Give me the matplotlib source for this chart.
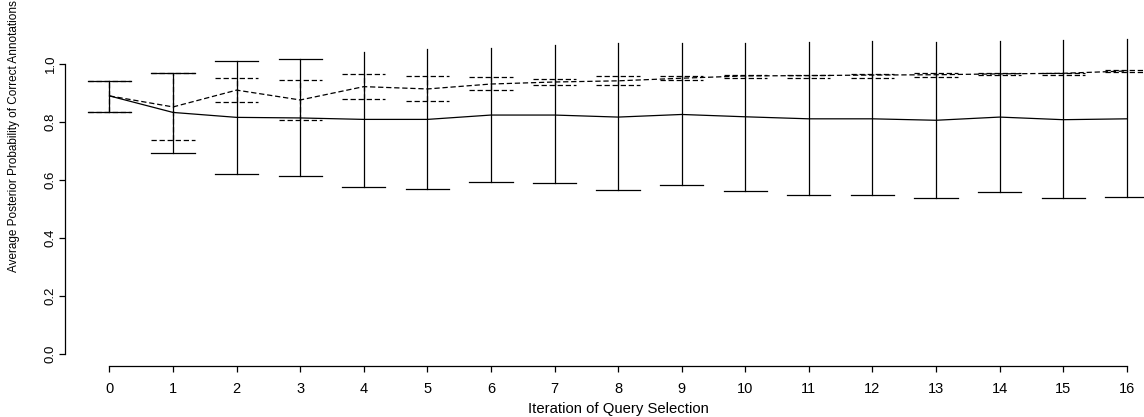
import matplotlib.pyplot as plt
import numpy as np

plt.rcParams['font.family'] = ['Liberation Sans', 'DejaVu Sans']
plt.rcParams['lines.scale_dashes'] = False

iterations = list(range(17))

# solid series: mean with lower/upper error bar ends
solid_mean = [0.890, 0.833, 0.816, 0.814, 0.809, 0.809, 0.824, 0.824, 0.817,
              0.826, 0.818, 0.811, 0.811, 0.806, 0.817, 0.808, 0.811]
solid_lower = [0.836, 0.692, 0.621, 0.613, 0.576, 0.569, 0.594, 0.588, 0.566,
               0.583, 0.562, 0.547, 0.547, 0.537, 0.557, 0.537, 0.541]
solid_upper = [0.943, 0.970, 1.011, 1.019, 1.042, 1.052, 1.054, 1.067, 1.071,
               1.072, 1.073, 1.077, 1.078, 1.077, 1.079, 1.082, 1.086]

# dashed series
dashed_mean = [0.890, 0.852, 0.910, 0.876, 0.922, 0.914, 0.931, 0.938, 0.942,
               0.951, 0.959, 0.960, 0.962, 0.963, 0.966, 0.968, 0.976]
dashed_lower = [0.836, 0.737, 0.869, 0.808, 0.878, 0.871, 0.910, 0.929, 0.927,
                0.946, 0.952, 0.952, 0.953, 0.955, 0.961, 0.963, 0.973]
dashed_upper = [0.943, 0.970, 0.952, 0.944, 0.967, 0.960, 0.954, 0.948, 0.957,
                0.959, 0.963, 0.963, 0.967, 0.968, 0.970, 0.970, 0.978]

ytick_vals = [0.0, 0.2, 0.4, 0.6, 0.8, 1.0]

fig = plt.figure(figsize=(11.44, 4.17), dpi=100)
ax = fig.add_axes([0.0568, 0.1233, 0.967, 0.751])
ymin, ymax = -0.04, 1.04
ax.set_xlim(-0.70, 16.70)
ax.set_ylim(ymin, ymax)

lw = 0.9
dash = (3.8, 2.0)
cap = 0.34


def errbars(x, lo, hi, style):
    extra = {'dashes': dash} if style == '--' else {}
    for xi, l, h in zip(x, lo, hi):
        ax.plot([xi, xi], [l, h], color='black', lw=lw, linestyle=style,
                clip_on=False, **extra)
        for y in (l, h):
            # caps beyond the plot region are not drawn
            if ymin <= y <= ymax:
                ax.plot([xi - cap, xi + cap], [y, y], color='black', lw=lw,
                        linestyle=style, **extra)


errbars(iterations, dashed_lower, dashed_upper, '--')
errbars(iterations, solid_lower, solid_upper, '-')

ax.plot(iterations, solid_mean, color='black', lw=lw)
ax.plot(iterations, dashed_mean, color='black', lw=lw, linestyle='--', dashes=dash)

# R-style axes
for s in ('top', 'right'):
    ax.spines[s].set_visible(False)
ax.spines['left'].set_bounds(0, 1)
ax.spines['bottom'].set_bounds(0, 16)
for s in ('left', 'bottom'):
    ax.spines[s].set_linewidth(0.9)

ax.set_xticks(iterations)
ax.set_xticklabels([str(i) for i in iterations], fontsize=10.5)
ax.set_yticks(ytick_vals)
ax.set_yticklabels(['%.1f' % v for v in ytick_vals], fontsize=9.5,
                   rotation=90, va='center')
ax.tick_params(direction='out', length=4.3, width=0.9)
ax.tick_params(axis='x', pad=7.5)
ax.tick_params(axis='y', pad=1.5)

fig.text(0.541, 0.019, 'Iteration of Query Selection', ha='center', va='center',
         fontsize=10.7)
fig.text(0.0125, 0.674, 'Average Posterior Probability of Correct Annotations',
         rotation=90, ha='center', va='center', fontsize=8.5)

fig.savefig('out.png', dpi=100)
